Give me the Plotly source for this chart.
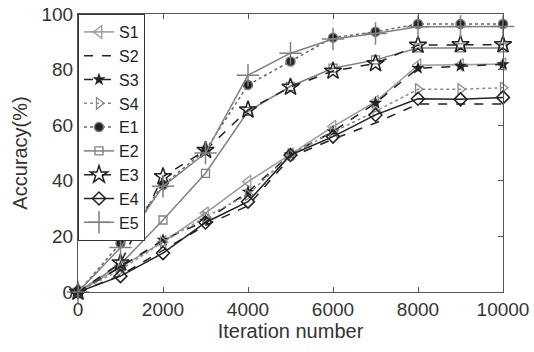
import plotly.graph_objects as go

iterations = [0, 1000, 2000, 3000, 4000, 5000, 6000, 7000, 8000, 9000, 10000]

S1 = [0, 9, 18, 28.4, 39.7, 49.5, 59.5, 68.5, 81.6, 81.7, 82]
S2 = [0, 6, 15, 24, 31, 48.5, 55, 60.8, 67.6, 67.6, 67.6]
S3 = [0, 9, 18.7, 25.6, 36, 49.5, 57.7, 68, 80.5, 81.3, 81.9]
S4 = [0, 8, 18, 27, 35, 49.5, 57.5, 65, 72.9, 72.9, 73.5]
E1 = [0, 17.5, 38.5, 51, 74.5, 82.9, 91.5, 93.6, 96.4, 96.4, 96.4]
E2 = [0, 10, 25.9, 42.7, 65, 74, 80.5, 83.5, 87.8, 87.8, 87.8]
E3 = [0, 10.5, 41.5, 51, 65.5, 73.7, 79.5, 82.2, 88.8, 89, 89]
E4 = [0, 5.7, 14, 25, 32.5, 49.3, 55.9, 63.7, 69.5, 69.3, 70]
E5 = [0, 16, 38, 50, 78, 85.9, 91, 93, 95.4, 95.5, 95.5]

x_ticks = [0, 2000, 4000, 6000, 8000, 10000]
x_ticklabels = ["0", "2000", "4000", "6000", "8000", "10000"]
y_ticks = [0, 20, 40, 60, 80, 100]
y_ticklabels = ["0", "20", "40", "60", "80", "100"]

names = ["S1", "S2", "S3", "S4", "E1", "E2", "E3", "E4", "E5"]
values = [S1, S2, S3, S4, E1, E2, E3, E4, E5]

styles = {
    "S1": dict(line=dict(color="#9a9a9a", width=1.5, dash="solid"),
               marker=dict(symbol="triangle-left-open", size=11, color="#9a9a9a", line=dict(width=1.3))),
    "S2": dict(line=dict(color="#222222", width=1.5, dash="dash"),
               marker=dict(size=1, color="rgba(0,0,0,0)")),
    "S3": dict(line=dict(color="#222222", width=1.5, dash="dash"),
               marker=dict(symbol="star", size=10, color="#222222", line=dict(width=0))),
    "S4": dict(line=dict(color="#8a8a8a", width=1.5, dash="dot"),
               marker=dict(symbol="triangle-right-open", size=10, color="#8a8a8a", line=dict(width=1.3))),
    "E1": dict(line=dict(color="#666666", width=1.5, dash="dot"),
               marker=dict(symbol="circle", size=9, color="#222222", line=dict(width=1.5, color="#777777"))),
    "E2": dict(line=dict(color="#808080", width=1.5, dash="solid"),
               marker=dict(symbol="square-open", size=8, color="#808080", line=dict(width=1.3))),
    "E3": dict(line=dict(color="#222222", width=1.5, dash="dash"),
               marker=dict(symbol="star-open", size=13, color="#222222", line=dict(width=1.5))),
    "E4": dict(line=dict(color="#222222", width=1.5, dash="solid"),
               marker=dict(symbol="diamond-open", size=10, color="#222222", line=dict(width=1.5))),
    "E5": dict(line=dict(color="#808080", width=1.5, dash="solid"),
               marker=dict(symbol="cross-thin-open", size=16, color="#808080", line=dict(width=1.5, color="#808080"))),
}

fig = go.Figure()
for n, v in zip(names, values):
    fig.add_trace(go.Scatter(x=iterations, y=v, name=n, mode="lines+markers",
                             cliponaxis=False, **styles[n]))

axis_common = dict(
    showline=True, linecolor="#555555", linewidth=1, mirror="ticks",
    ticks="inside", ticklen=5, tickcolor="#555555", showgrid=False, zeroline=False,
    automargin=False, ticklabeloverflow="allow",
    tickfont=dict(size=19, color="#333333", family="Liberation Sans, Arial, sans-serif"),
)

fig.update_layout(
    width=534, height=352,
    margin=dict(l=78, r=31, t=14, b=60),
    plot_bgcolor="white", paper_bgcolor="white",
    font=dict(family="Liberation Sans, Arial, sans-serif", color="#333333"),
    xaxis=dict(range=[0, 10000], tickvals=x_ticks, ticktext=x_ticklabels,
               title=dict(text="Iteration number", font=dict(size=20), standoff=0), **axis_common),
    yaxis=dict(range=[0, 100], tickvals=y_ticks, ticktext=y_ticklabels,
               title=dict(text="Accuracy(%)", font=dict(size=20), standoff=8), **axis_common),
    legend=dict(x=0, y=1, xanchor="left", yanchor="top", bgcolor="white",
                bordercolor="#333333", borderwidth=1, font=dict(size=16, color="#222222"),
                tracegroupgap=0, itemwidth=30),
    showlegend=True,
)

fig.write_html("out.html",
               config={"displayModeBar": False},
               post_script="document.body.style.margin='0';document.body.style.overflow='hidden';")
